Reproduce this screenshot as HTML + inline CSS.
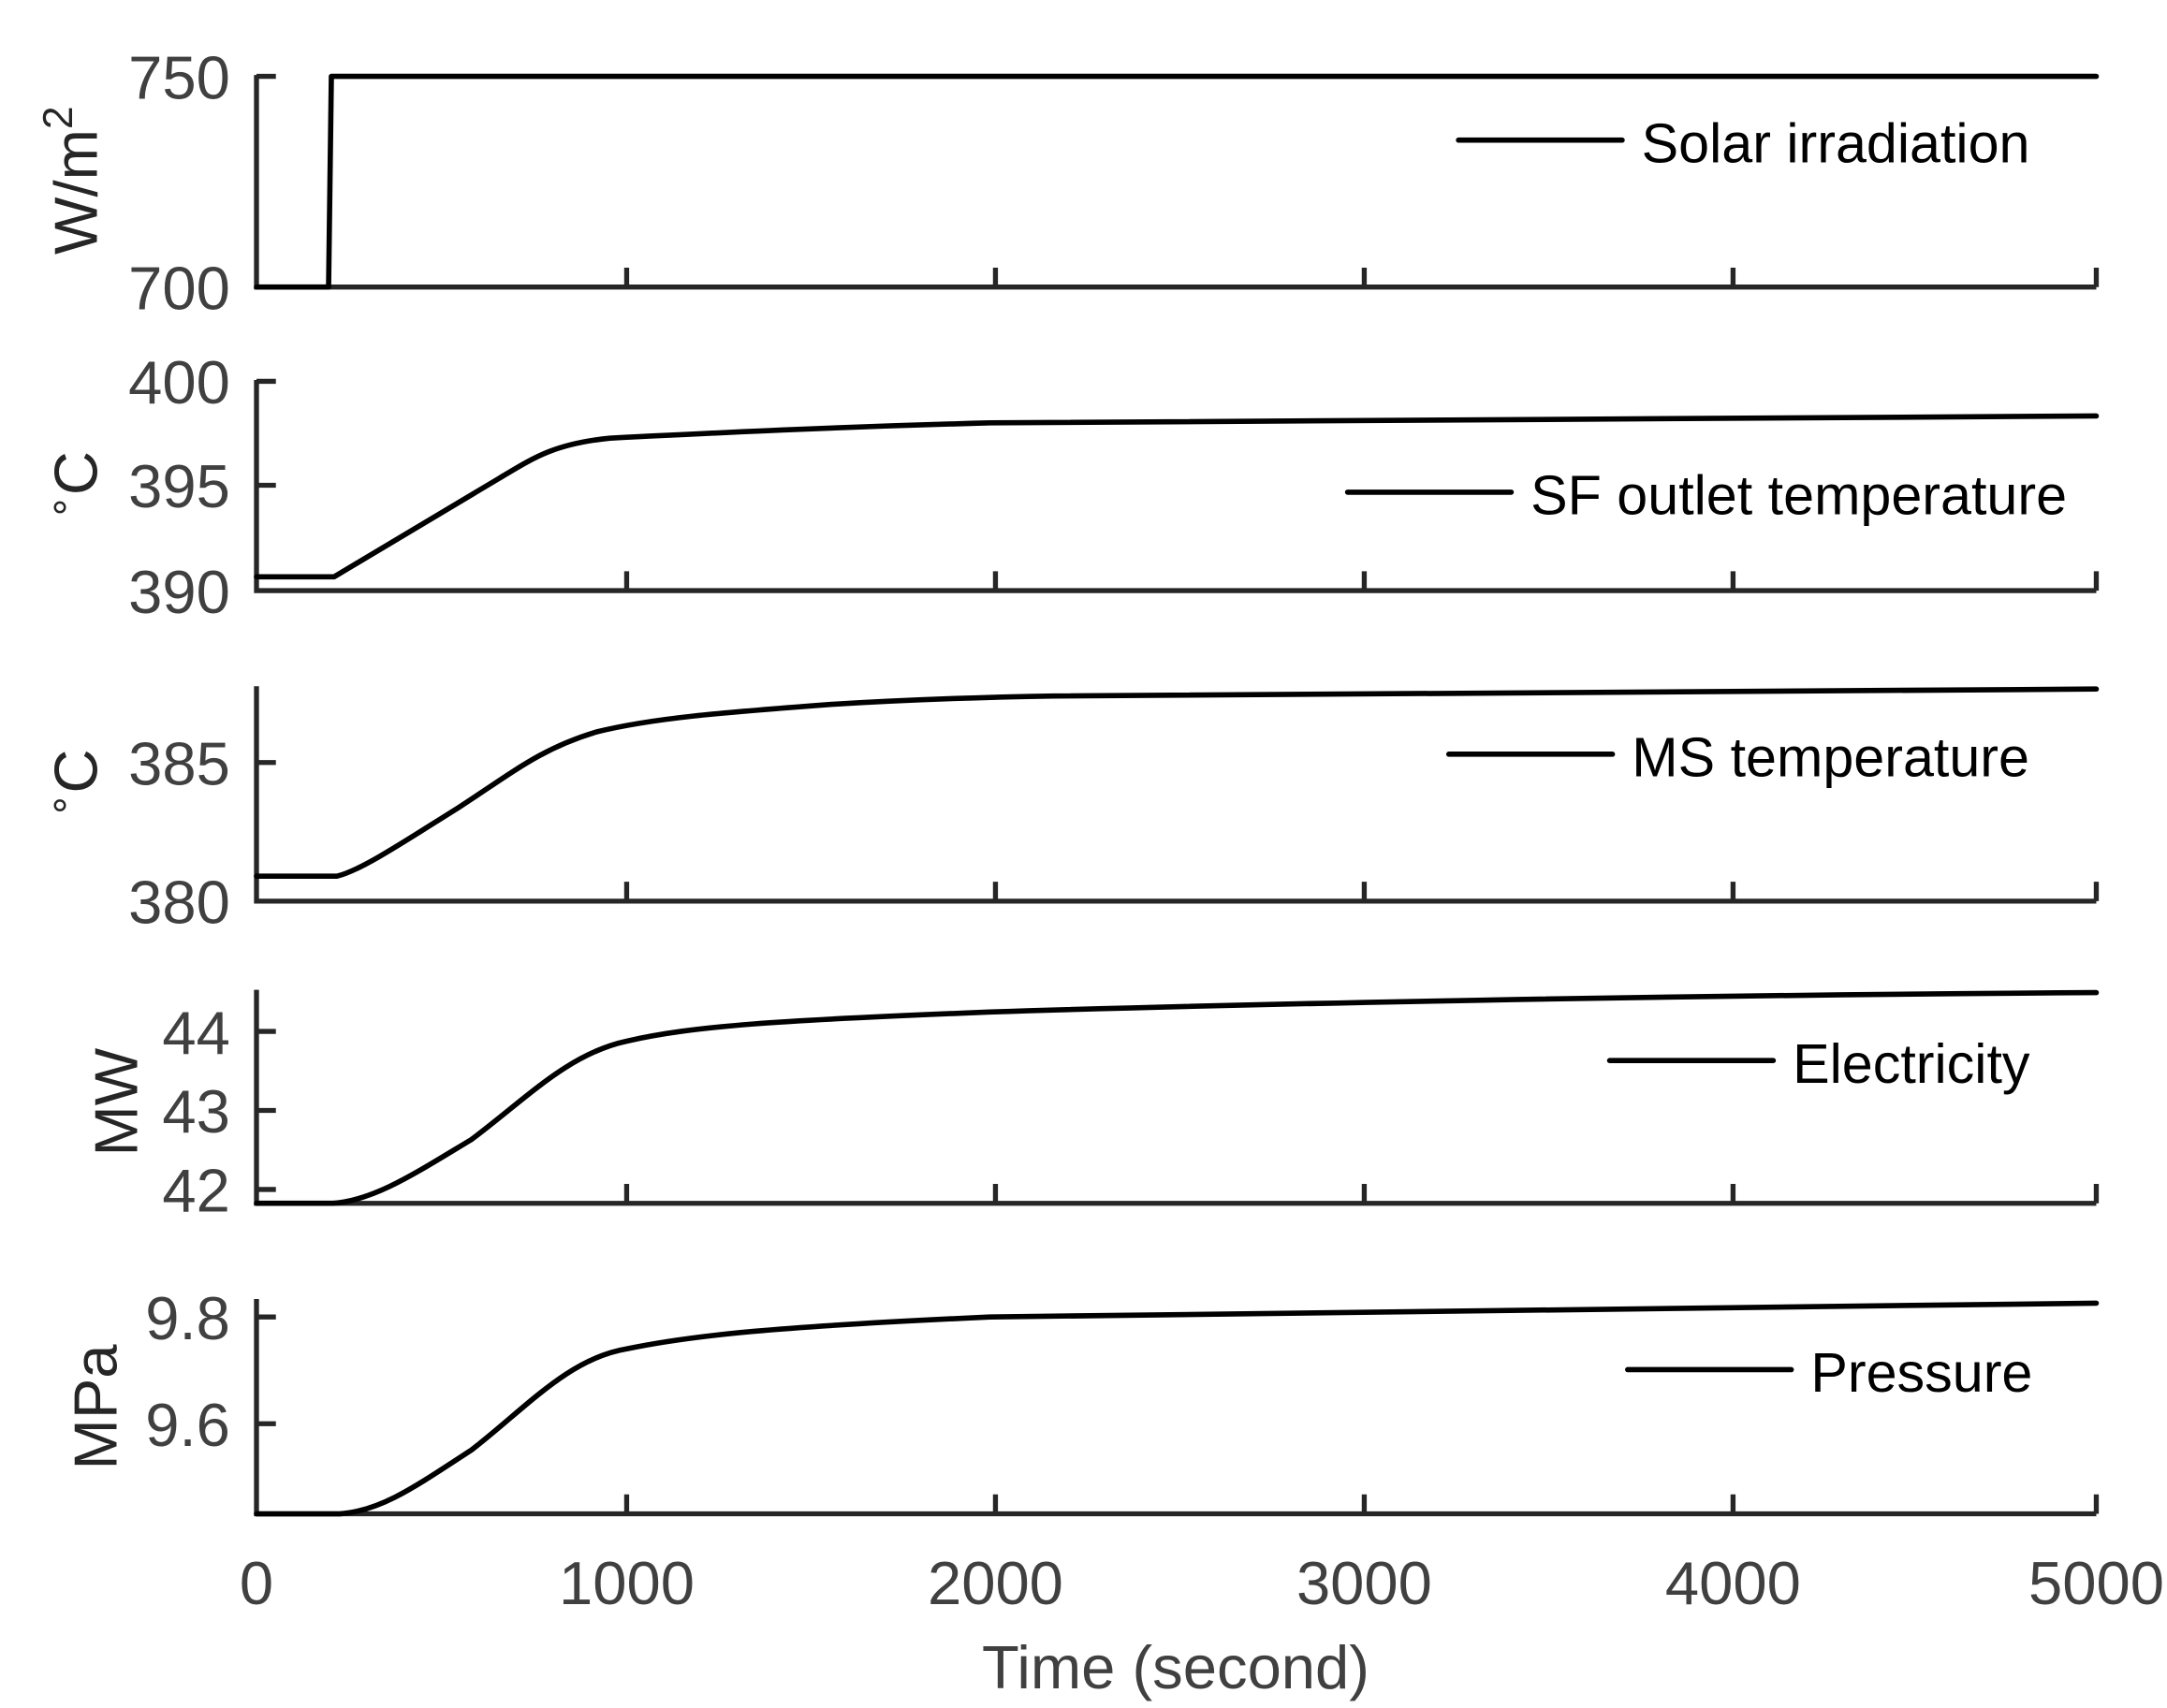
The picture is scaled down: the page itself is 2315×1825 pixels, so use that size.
<!DOCTYPE html>
<html><head><style>body{margin:0;background:#fff}svg{display:block}</style></head><body>
<svg width="2315" height="1825" viewBox="0 0 1563 1232" xmlns="http://www.w3.org/2000/svg" font-family="Liberation Sans, Arial, sans-serif">
<rect width="1563" height="1232" fill="#fff"/>
<g stroke="#262626" stroke-width="3.6" fill="none">
<path d="M185,54V207H1512"/>
<path d="M185,55h14M452,207v-14M718,207v-14M984,207v-14M1250,207v-14M1512,207v-14"/>
<path d="M185,274V426H1512"/>
<path d="M185,275h14M185,350h14M452,426v-14M718,426v-14M984,426v-14M1250,426v-14M1512,426v-14"/>
<path d="M185,495V650H1512"/>
<path d="M185,550h14M452,650v-14M718,650v-14M984,650v-14M1250,650v-14M1512,650v-14"/>
<path d="M185,714V868H1512"/>
<path d="M185,744h14M185,801h14M185,858h14M452,868v-14M718,868v-14M984,868v-14M1250,868v-14M1512,868v-14"/>
<path d="M185,937V1092H1512"/>
<path d="M185,950h14M185,1027h14M452,1092v-14M718,1092v-14M984,1092v-14M1250,1092v-14M1512,1092v-14"/>
</g>
<g stroke="#000" stroke-width="3.8" fill="none" stroke-linejoin="round" stroke-linecap="round">
<polyline points="185,207 237,207 239,55 1512,55"/>
<path d="M185,416 L241,416 L360,345 C385,330 400,320 440,316 C520,312 600,308 714,305 C900,302 1200,301 1512,300"/>
<path d="M185,632 L243,632 C260,628 290,608 330,583 C370,557 390,540 430,528 C470,518 520,514 600,508 C650,505 700,503 760,502 C900,499 1200,498 1512,497"/>
<path d="M185,868 L240,868 C270,866 300,846 340,822 C380,792 410,760 452,751 C500,740 560,736 714,730 C900,724 1200,718 1512,716"/>
<path d="M185,1092 L245,1092 C275,1090 300,1072 340,1046 C380,1015 410,980 452,973 C500,963 560,957 714,950 C900,946 1200,942 1512,940"/>
<path d="M1052,101h118M972,355h118M1045,544h118M1161,765h118M1174,988h118"/>
</g>
<g fill="#000" font-size="40">
<text x="1184" y="117">Solar irradiation</text>
<text x="1104" y="371">SF outlet temperature</text>
<text x="1177" y="560">MS temperature</text>
<text x="1293" y="781">Electricity</text>
<text x="1306" y="1004">Pressure</text>
</g>
<g fill="#404040" font-size="44" text-anchor="end">
<text x="166" y="71">750</text><text x="166" y="223">700</text>
<text x="166" y="291">400</text><text x="166" y="366">395</text><text x="166" y="442">390</text>
<text x="166" y="566">385</text><text x="166" y="666">380</text>
<text x="166" y="760">44</text><text x="166" y="817">43</text><text x="166" y="874">42</text>
<text x="166" y="966">9.8</text><text x="166" y="1043">9.6</text>
</g>
<g fill="#404040" font-size="44" text-anchor="middle">
<text x="185" y="1157">0</text><text x="452" y="1157">1000</text><text x="718" y="1157">2000</text><text x="984" y="1157">3000</text><text x="1250" y="1157">4000</text><text x="1512" y="1157">5000</text>
<text x="848" y="1218">Time (second)</text>
</g>
<g fill="#262626" font-size="44" text-anchor="middle">
<text transform="translate(70,130) rotate(-90)">W/m<tspan font-size="30" dy="-18">2</tspan></text>
<text transform="translate(70,350) rotate(-90)"><tspan font-size="28" dy="-18">∘</tspan><tspan dy="18">C</tspan></text>
<text transform="translate(70,565) rotate(-90)"><tspan font-size="28" dy="-18">∘</tspan><tspan dy="18">C</tspan></text>
<text transform="translate(99,795) rotate(-90)">MW</text>
<text transform="translate(84,1015) rotate(-90)">MPa</text>
</g>
</svg>
</body></html>
